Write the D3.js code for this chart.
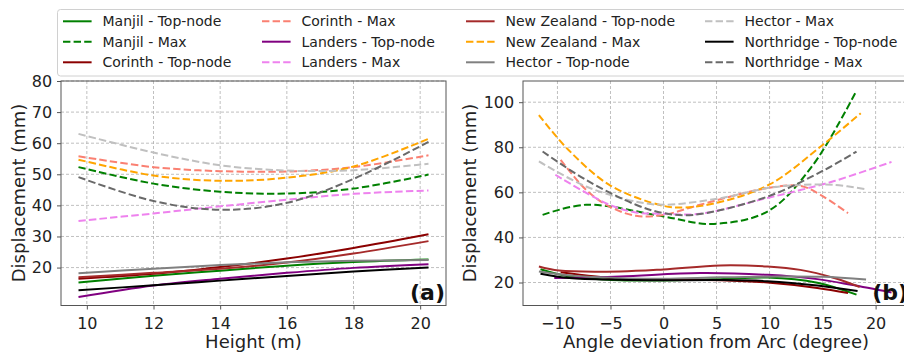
<!DOCTYPE html>
<html><head><meta charset="utf-8">
<script src="https://cdn.jsdelivr.net/npm/d3@7"></script>
<style>body{margin:0;background:#fff;} svg text{font-family:"DejaVu Sans",sans-serif;}</style>
</head><body><svg id="c" width="904" height="356"></svg>
<script>
// ---------- Data ----------
// Panel (a): Height (m)
const heightX = [9.75, 12, 14, 16, 18, 20.25];
const aManjilTop     = [15.2, 17.4, 19.0, 20.6, 21.8, 22.6];
const aManjilMax     = [52.3, 47.0, 44.4, 43.8, 45.4, 49.9];
const aCorinthTop    = [16.4, 18.0, 20.2, 22.9, 26.3, 30.7];
const aCorinthMax    = [55.8, 52.3, 51.0, 50.9, 52.3, 56.1];
const aLandersTop    = [10.5, 14.2, 16.4, 18.3, 19.9, 21.1];
const aLandersMax    = [35.0, 37.4, 39.7, 41.8, 43.7, 44.8];
const aNZTop         = [16.9, 18.3, 19.6, 21.6, 24.5, 28.5];
const aNZMax         = [54.7, 49.6, 47.9, 48.9, 52.5, 61.4];
const aHectorTop     = [18.2, 19.6, 20.8, 21.7, 22.2, 22.4];
const aHectorMax     = [63.0, 57.0, 52.9, 51.2, 51.3, 53.4];
const aNorthridgeTop = [12.7, 14.3, 15.8, 17.3, 18.7, 20.0];
const aNorthridgeMax = [49.1, 41.4, 38.6, 40.8, 48.5, 60.4];

// Panel (b): Angle deviation from Arc (degree)
const bManjilTopX = [-11.6, -8.9, -4.1, 0, 5.35, 9.8, 14.5, 18.2];
const bManjilTopY = [25.9, 22.7, 21.0, 20.9, 21.5, 22.2, 19.9, 14.6];
const bManjilMaxX = [-11.4, -7.3, 0, 4.5, 9.8, 14, 18.2];
const bManjilMaxY = [50.0, 54.5, 49.3, 46.0, 51.5, 71.5, 105.1];
const bCorinthTopX = [-9.7, -4.1, 0, 5.35, 9.8, 14.5, 17.4];
const bCorinthTopY = [24.5, 21.6, 21.3, 21.0, 20.0, 17.6, 15.3];
const bCorinthMaxX = [-9.7, -7.3, -5.1, -2.6, 0, 3.45, 9.8, 12.9, 14.8, 17.4];
const bCorinthMaxY = [74.4, 61.1, 53.7, 49.6, 50.0, 54.5, 61.9, 62.9, 58.9, 50.8];
const bLandersTopX = [-10.3, -4.1, 3.45, 9.8, 14.5, 17.7, 21.5];
const bLandersTopY = [22.0, 22.7, 24.2, 23.4, 21.5, 19.0, 15.6];
const bLandersMaxX = [-10.2, -5.1, -2.6, 0, 3.45, 9.8, 12.9, 16.1, 21.5];
const bLandersMaxY = [67.8, 54.5, 51.1, 50.5, 50.5, 57.5, 61.0, 65.0, 73.5];
const bNZTopX = [-11.75, -9.85, -4.1, 0, 5.35, 9.8, 12.9, 16.1, 18.5];
const bNZTopY = [27.1, 25.3, 24.9, 25.8, 27.6, 27.1, 25.6, 22.0, 18.0];
const bNZMaxX = [-11.75, -9, -5, 0, 2, 5, 10, 15, 18.6];
const bNZMaxY = [94.3, 79.0, 63.0, 54.0, 53.3, 55.3, 63.5, 81.0, 95.1];
const bHectorTopX = [-11.75, -8.9, -4.1, 0, 5.35, 9.8, 15, 19.1];
const bHectorTopY = [24.9, 23.2, 21.9, 21.7, 22.3, 22.6, 22.5, 21.3];
const bHectorMaxX = [-11.75, -7.3, -2.6, 0, 5.35, 9.8, 12.9, 16.1, 19.1];
const bHectorMaxY = [73.7, 62.6, 55.9, 54.5, 57.4, 61.9, 63.3, 63.3, 61.4];
const bNorthridgeTopX = [-11.6, -8.9, -4.1, 0, 5.35, 9.8, 14.5, 18.3];
const bNorthridgeTopY = [23.9, 22.0, 21.2, 21.0, 21.1, 20.6, 18.7, 16.2];
const bNorthridgeMaxX = [-11.4, -7.3, -2.6, 0, 2.8, 9.8, 15.2, 18.2];
const bNorthridgeMaxY = [78.1, 65.5, 54.5, 50.8, 50.0, 58.1, 70.0, 78.1];

const aTicksX = [10, 12, 14, 16, 18, 20];
const aTicksY = [20, 30, 40, 50, 60, 70, 80];
const bTicksX = [-10, -5, 0, 5, 10, 15, 20];
const bTicksY = [20, 40, 60, 80, 100];

const seriesNames = ["Manjil - Top-node","Manjil - Max","Corinth - Top-node","Corinth - Max",
  "Landers - Top-node","Landers - Max","New Zealand - Top-node","New Zealand - Max",
  "Hector - Top-node","Hector - Max","Northridge - Top-node","Northridge - Max"];
const seriesColors = ["#008000","#008000","#8b0000","#fa8072","#800080","#ee82ee",
  "#a52a2a","#ffa500","#808080","#c0c0c0","#000000","#696969"];
const seriesDashed = [false,true,false,true,false,true,false,true,false,true,false,true];

// ---------- Drawing ----------
const svg = d3.select("#c");
const plotTop = 81, plotBottom = 305.5;

const aData = [aManjilTop,aManjilMax,aCorinthTop,aCorinthMax,aLandersTop,aLandersMax,
  aNZTop,aNZMax,aHectorTop,aHectorMax,aNorthridgeTop,aNorthridgeMax]
  .map(ys => ys.map((y,i)=>[heightX[i], y]));
const bPairs = [[bManjilTopX,bManjilTopY],[bManjilMaxX,bManjilMaxY],[bCorinthTopX,bCorinthTopY],
  [bCorinthMaxX,bCorinthMaxY],[bLandersTopX,bLandersTopY],[bLandersMaxX,bLandersMaxY],
  [bNZTopX,bNZTopY],[bNZMaxX,bNZMaxY],[bHectorTopX,bHectorTopY],[bHectorMaxX,bHectorMaxY],
  [bNorthridgeTopX,bNorthridgeTopY],[bNorthridgeMaxX,bNorthridgeMaxY]];
const bData = bPairs.map(([xs,ys]) => xs.map((x,i)=>[x, ys[i]]));

function panel(cfg){
  const x = d3.scaleLinear(cfg.xd, [cfg.left, cfg.right]);
  const y = d3.scaleLinear(cfg.yd, [plotBottom, plotTop]);
  const g = svg.append("g");
  g.selectAll(".gx").data(cfg.tx).join("line")
    .attr("x1", d=>x(d)).attr("x2", d=>x(d)).attr("y1", plotTop).attr("y2", plotBottom)
    .attr("stroke","#b0b0b0").attr("stroke-width",0.8).attr("stroke-dasharray","3,2");
  g.selectAll(".gy").data(cfg.ty).join("line")
    .attr("x1", cfg.left).attr("x2", cfg.right).attr("y1", d=>y(d)).attr("y2", d=>y(d))
    .attr("stroke","#b0b0b0").attr("stroke-width",0.8).attr("stroke-dasharray","3,2");
  const line = d3.line().x(d=>x(d[0])).y(d=>y(d[1])).curve(d3.curveCatmullRom.alpha(0.5));
  cfg.data.forEach((pts,i)=>{
    g.append("path").attr("d", line(pts)).attr("fill","none")
      .attr("stroke", seriesColors[i]).attr("stroke-width", 2)
      .attr("stroke-dasharray", seriesDashed[i] ? "7.4,3.2" : null);
  });
  g.append("rect").attr("x",cfg.left).attr("y",plotTop).attr("width",cfg.right-cfg.left)
    .attr("height",plotBottom-plotTop).attr("fill","none").attr("stroke","#555").attr("stroke-width",1);
  const ax = g.append("g").attr("transform",`translate(0,${plotBottom})`)
    .call(d3.axisBottom(x).tickValues(cfg.tx).tickFormat(cfg.fmt).tickSize(4).tickPadding(8));
  const ay = g.append("g").attr("transform",`translate(${cfg.left},0)`)
    .call(d3.axisLeft(y).tickValues(cfg.ty).tickSize(4).tickPadding(4.8));
  [ax, ay].forEach(a=>{
    a.select(".domain").remove();
    a.selectAll("line").attr("stroke","#555");
    a.selectAll("text").attr("font-size",16).attr("fill","#222")
      .attr("font-family","DejaVu Sans, sans-serif");
  });
  g.append("text").attr("x",(cfg.left+cfg.right)/2).attr("y",348).attr("text-anchor","middle")
    .attr("font-size",18).attr("fill","#222").text(cfg.xlabel);
  g.append("text").attr("transform",`translate(${cfg.ylx},193) rotate(-90)`)
    .attr("text-anchor","middle").attr("font-size",18).attr("fill","#222").text("Displacement (mm)");
  g.append("text").attr("x",cfg.right-1).attr("y",300).attr("text-anchor","end")
    .attr("font-size",22).attr("font-weight","bold").attr("fill","#111").text(cfg.tag);
}

panel({left:61, right:446, xd:[9.225,20.775], yd:[7.8,80], tx:aTicksX, ty:aTicksY,
  fmt:d3.format("d"), data:aData, xlabel:"Height (m)", ylx:25, tag:"(a)"});
panel({left:523, right:909, xd:[-13.25,23.15], yd:[9.8,109.4], tx:bTicksX, ty:bTicksY,
  fmt:d=> d<0 ? "\u2212"+Math.abs(d) : String(d), data:bData,
  xlabel:"Angle deviation from Arc (degree)", ylx:476, tag:"(b)"});

const lg = svg.append("g");
lg.append("rect").attr("x",57.5).attr("y",9.5).attr("width",860).attr("height",66.5)
  .attr("rx",3).attr("fill","#fff").attr("fill-opacity",0.85).attr("stroke","#d0d0d0").attr("stroke-width",1);
const colX = [63, 262, 466, 705];
const rowY = [21.3, 41.7, 62.3];
seriesNames.forEach((name,i)=>{
  const c = Math.floor(i/3), r = i%3;
  const hx = colX[c], hy = rowY[r];
  lg.append("line").attr("x1",hx).attr("x2",hx+28.6).attr("y1",hy).attr("y2",hy)
    .attr("stroke",seriesColors[i]).attr("stroke-width",2)
    .attr("stroke-dasharray", seriesDashed[i] ? "7.4,3.2" : null);
  lg.append("text").attr("x",hx+39.5).attr("y",hy+5).attr("font-size",14).attr("fill","#222").text(name);
});
</script></body></html>
